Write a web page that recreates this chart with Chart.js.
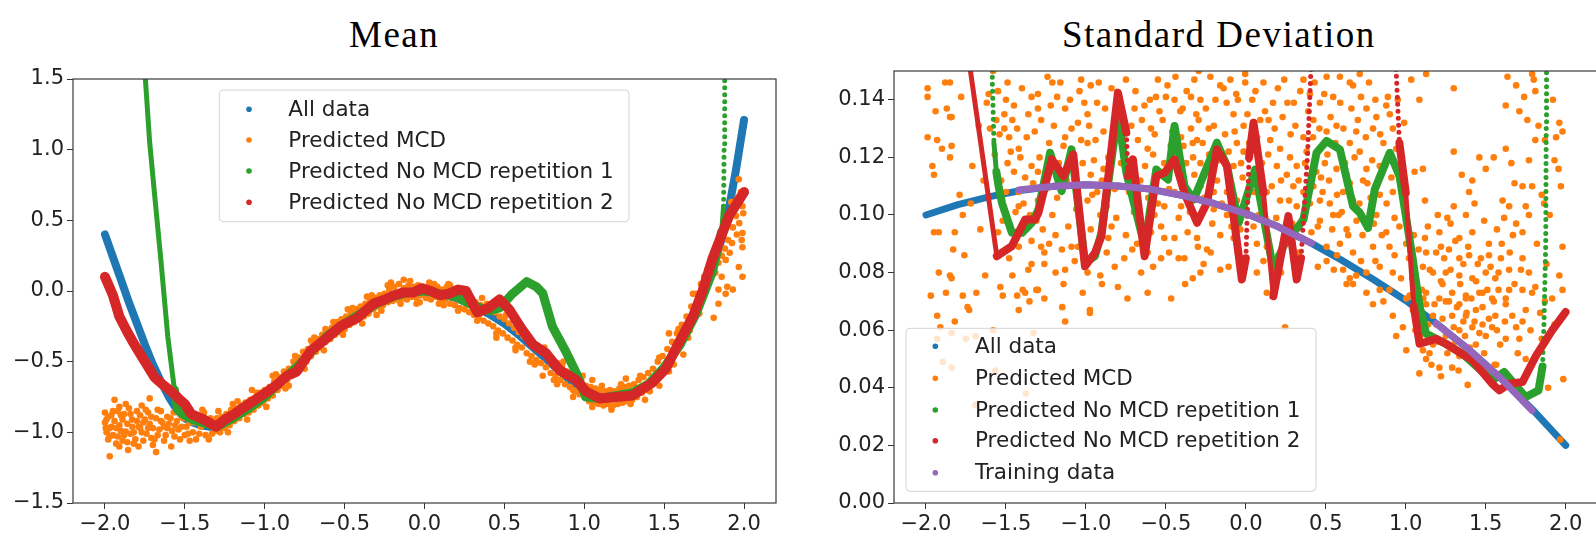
<!DOCTYPE html>
<html>
<head>
<meta charset="utf-8">
<script src="https://cdn.jsdelivr.net/npm/chart.js@4.4.1/dist/chart.umd.min.js"></script>
<style>
  html, body { margin: 0; padding: 0; background: #fff; overflow: hidden; }
  body { width: 1596px; height: 534px; position: relative; }
  canvas { position: absolute; top: 0; }
  .title { position: absolute; top: 16px; font-family: "Liberation Serif", serif; font-size: 37px; line-height: 37px; letter-spacing: 1.5px; color: #000; white-space: nowrap; }
</style>
</head>
<body>
<div class="title" style="left:349px">Mean</div>
<div class="title" style="left:1062px">Standard Deviation</div>
<canvas id="meanChart" width="800" height="534" style="left:0"></canvas>
<canvas id="sdChart" width="801" height="534" style="left:800px"></canvas>
<script>
const seriesLabels = ['All data', 'Predicted MCD', 'Predicted No MCD repetition 1', 'Predicted No MCD repetition 2', 'Training data'];
const xTicks = [-2.0, -1.5, -1.0, -0.5, 0.0, 0.5, 1.0, 1.5, 2.0];
const meanYTicks = [-1.5, -1.0, -0.5, 0.0, 0.5, 1.0, 1.5];
const sdYTicks = [0.00, 0.02, 0.04, 0.06, 0.08, 0.10, 0.12, 0.14];

// ---- Mean panel ----
const meanAll = [[-2.0,0.40],[-1.95,0.24],[-1.9,0.08],[-1.85,-0.08],[-1.8,-0.23],[-1.75,-0.38],[-1.7,-0.52],[-1.65,-0.64],[-1.6,-0.75],[-1.55,-0.84],[-1.5,-0.90],[-1.45,-0.93],[-1.4,-0.95],[-1.35,-0.96],[-1.3,-0.96],[-1.25,-0.94],[-1.2,-0.90],[-1.1,-0.83],[-1.0,-0.75],[-0.9,-0.64],[-0.8,-0.53],[-0.7,-0.42],[-0.6,-0.31],[-0.5,-0.23],[-0.4,-0.16],[-0.3,-0.09],[-0.2,-0.04],[-0.1,-0.01],[0.0,0.0],[0.1,-0.02],[0.2,-0.05],[0.3,-0.10],[0.4,-0.16],[0.5,-0.23],[0.6,-0.32],[0.7,-0.42],[0.8,-0.52],[0.9,-0.62],[1.0,-0.70],[1.1,-0.75],[1.2,-0.76],[1.3,-0.73],[1.4,-0.66],[1.5,-0.54],[1.6,-0.38],[1.7,-0.16],[1.75,-0.02],[1.8,0.14],[1.85,0.33],[1.9,0.55],[1.95,0.86],[2.0,1.21]];

const meanMcd = [
  [-2.00,-0.86],[-2.00,-0.93],[-1.99,-1.00],[-1.99,-0.91],[-1.98,-1.05],[-1.97,-1.17],[-1.97,-0.97],[-1.96,-0.88],[-1.96,-0.96],[-1.95,-1.02],[-1.94,-0.77],[-1.94,-0.92],[-1.93,-1.08],[-1.92,-1.03],[-1.92,-0.85],[-1.91,-0.82],[-1.91,-0.95],[-1.90,-0.99],[-1.89,-0.91],[-1.89,-1.06],[-1.88,-0.87],[-1.87,-0.995],[-1.86,-0.94],[-1.855,-1.125],[-1.85,-0.83],[-1.84,-0.87],[-1.84,-1.01],[-1.83,-0.96],[-1.82,-1.08],[-1.81,-1.05],[-1.80,-0.92],[-1.79,-0.96],[-1.78,-0.88],[-1.77,-0.81],[-1.77,-1.00],[-1.76,-0.93],[-1.75,-0.91],[-1.74,-1.01],[-1.73,-0.86],[-1.72,-0.76],[-1.72,-0.94],[-1.71,-1.04],[-1.70,-0.97],[-1.69,-1.05],[-1.68,-1.14],[-1.68,-0.90],[-1.67,-0.84],[-1.66,-0.98],[-1.65,-0.85],[-1.64,-0.93],[-1.63,-0.96],[-1.62,-1.02],[-1.61,-0.89],[-1.60,-0.94],[-1.585,-1.10],[-1.58,-0.99],[-1.57,-0.86],[-1.565,-1.03],[-1.55,-0.92],[-1.54,-0.98],[-1.52,-0.96],[-1.51,-0.90],[-1.50,-1.02],[-1.48,-1.01],[-1.47,-0.93],
  [-1.995,-0.97],[-1.98,-0.89],[-1.97,-1.03],[-1.95,-0.85],[-1.93,-0.97],[-1.91,-1.10],[-1.90,-0.88],[-1.88,-1.02],[-1.87,-0.80],[-1.86,-1.07],[-1.83,-0.91],[-1.82,-1.00],[-1.80,-0.85],[-1.79,-1.10],[-1.78,-0.97],[-1.76,-1.06],[-1.745,-0.84],[-1.73,-0.97],[-1.71,-0.89],[-1.70,-1.09],[-1.67,-1.02],[-1.65,-0.92],[-1.63,-1.06],[-1.61,-0.97],[-1.59,-0.90],[-1.56,-0.95],[-1.53,-1.05],[-1.53,-0.87],[-1.49,-0.96],[-1.47,-1.06],
  [-1.46,-0.87],[-1.45,-1.00],[-1.44,-0.93],[-1.42,-0.88],[-1.41,-1.01],[-1.40,-0.96],[-1.38,-0.86],[-1.37,-1.02],[-1.36,-0.93],[-1.34,-0.90],[-1.33,-1.01],[-1.31,-0.99],[-1.30,-0.90],[-1.28,-1.00],[-1.27,-0.89],[-1.25,-0.97],[-1.24,-0.87],[-1.22,-0.95],[-1.21,-0.84],[-1.19,-0.92],[-1.18,-0.83],[-1.16,-0.90],[-1.15,-0.81],[-1.13,-0.87],[-1.12,-0.79],[-1.10,-0.86],[-1.09,-0.77],[-1.07,-0.84],[-1.06,-0.76],[-1.04,-0.81],[-1.03,-0.72],[-1.01,-0.79],[-1.00,-0.70],[-0.98,-0.76],[-0.97,-0.68],[-0.95,-0.74],[-0.94,-0.64],[-0.92,-0.70],[-0.91,-0.61],[-0.89,-0.67],[-0.88,-0.57],[-0.86,-0.63],[-0.85,-0.55],[-0.83,-0.60],[-0.82,-0.50],[-0.80,-0.57],[-0.79,-0.47],[-0.77,-0.52],[-0.76,-0.43],[-0.74,-0.50],[-0.73,-0.41],[-0.71,-0.46],[-0.70,-0.37],[-0.68,-0.43],[-0.67,-0.34],[-0.65,-0.40],[-0.64,-0.31],[-0.62,-0.36],[-0.61,-0.28],[-0.59,-0.34],[-0.58,-0.26],[-0.56,-0.31],[-0.55,-0.22],[-0.53,-0.29],[-0.52,-0.20],[-0.50,-0.27],[-0.49,-0.18],[-0.47,-0.24],[-0.46,-0.15],[-0.44,-0.22],[-0.43,-0.13],[-0.41,-0.20],[-0.40,-0.11],[-0.38,-0.18],[-0.37,-0.09],[-0.35,-0.16],[-0.34,-0.07],[-0.32,-0.13],[-0.31,-0.05],[-0.29,-0.11],[-0.28,-0.03],[-0.26,-0.10],[-0.25,-0.02],[-0.23,-0.08],[-0.22,0.01],[-0.20,-0.07],[-0.19,0.03],[-0.17,-0.06],[-0.16,0.05],[-0.14,-0.05],[-0.13,0.02],[-0.11,-0.06],[-0.10,0.04],[-0.08,-0.04],[-0.07,0.03],[-0.05,-0.05],[-0.04,0.04],[-0.02,-0.03],[-0.01,0.03],[0.01,-0.05],[0.02,0.03],[0.04,-0.06],[0.05,0.02],[0.07,-0.04],[0.08,0.03],[0.10,-0.07],[0.11,0.01],[0.13,-0.06],[0.14,0.03],[0.16,-0.09],[0.17,0.01],[0.19,-0.10],[0.20,0.00],[0.22,-0.12],[0.23,-0.03],[0.25,-0.13],[0.26,-0.05],[0.28,-0.15],[0.29,-0.06],[0.31,-0.17],[0.32,-0.08],[0.34,-0.19],[0.35,-0.10],[0.37,-0.21],[0.38,-0.12],[0.40,-0.23],[0.41,-0.13],[0.43,-0.25],[0.44,-0.15],[0.46,-0.28],[0.47,-0.18],[0.49,-0.30],[0.50,-0.20],[0.52,-0.33],[0.53,-0.23],[0.55,-0.35],[0.56,-0.26],[0.58,-0.38],[0.59,-0.29],[0.61,-0.40],[0.62,-0.32],[0.64,-0.44],[0.65,-0.34],[0.67,-0.46],[0.68,-0.37],[0.70,-0.49],[0.71,-0.40],[0.73,-0.51],[0.74,-0.42],[0.76,-0.54],[0.77,-0.45],[0.79,-0.58],[0.80,-0.48],[0.82,-0.60],[0.83,-0.51],[0.85,-0.63],[0.86,-0.53],[0.88,-0.66],[0.89,-0.57],[0.91,-0.68],[0.92,-0.60],[0.94,-0.71],[0.95,-0.61],[0.97,-0.73],[0.98,-0.63],[1.00,-0.75],[1.01,-0.67],[1.03,-0.78],[1.04,-0.68],[1.06,-0.79],[1.07,-0.69],[1.09,-0.80],[1.10,-0.70],[1.12,-0.81],[1.13,-0.71],[1.15,-0.80],[1.16,-0.70],[1.18,-0.81],[1.19,-0.71],[1.21,-0.80],[1.22,-0.69],[1.24,-0.79],[1.25,-0.68],[1.27,-0.78],[1.28,-0.67],[1.30,-0.77],[1.31,-0.66],[1.33,-0.75],[1.34,-0.63],[1.36,-0.72],[1.37,-0.61],[1.39,-0.70],[1.40,-0.58],[1.42,-0.66],[1.43,-0.55],[1.45,-0.63],[1.46,-0.50],[1.48,-0.58],[1.49,-0.46],[1.51,-0.53],[1.52,-0.41],[1.54,-0.48],[1.55,-0.36],[1.57,-0.43],[1.58,-0.30],[1.60,-0.37],[1.61,-0.24],[1.63,-0.31],[1.64,-0.18],[1.66,-0.24],[1.67,-0.11],[1.69,-0.17],
  [-1.43,-1.05],[-1.39,-0.84],[-1.35,-1.05],[-1.29,-0.85],[-1.23,-1.00],[-1.17,-0.78],[-1.11,-0.91],[-1.05,-0.72],[-0.99,-0.82],[-0.93,-0.59],[-0.87,-0.69],[-0.81,-0.46],[-0.75,-0.55],[-0.69,-0.33],[-0.63,-0.42],[-0.57,-0.22],[-0.51,-0.31],[-0.45,-0.12],[-0.39,-0.23],[-0.33,-0.03],[-0.27,-0.14],[-0.21,0.06],[-0.15,-0.09],[-0.09,0.07],[-0.03,-0.08],[0.03,0.06],[0.09,-0.09],[0.15,0.05],[0.21,-0.14],[0.27,-0.02],[0.33,-0.21],[0.39,-0.09],[0.45,-0.30],[0.51,-0.17],[0.57,-0.40],[0.63,-0.29],[0.69,-0.52],[0.75,-0.40],[0.81,-0.63],[0.87,-0.50],[0.93,-0.70],[0.99,-0.60],[1.05,-0.82],[1.11,-0.67],[1.17,-0.82],[1.23,-0.66],[1.29,-0.80],[1.35,-0.60],[1.41,-0.71],[1.47,-0.47],[1.53,-0.57],[1.59,-0.27],[1.65,-0.33],
  [-0.71,-0.35],[-0.62,-0.27],[-0.48,-0.13],[-0.36,-0.04],[-0.23,0.04],[-0.13,0.08],[0.06,0.05],[0.16,0.04],[0.24,0.0],[0.36,-0.05],[0.45,-0.33],[0.57,-0.42],[0.66,-0.50],[0.74,-0.60],[0.83,-0.66],[0.93,-0.75],[1.05,-0.63],[1.17,-0.84],[1.26,-0.62],[1.38,-0.77],[1.47,-0.67],[1.56,-0.52],[1.62,-0.45],[1.53,-0.30],[-0.95,-0.60],[-1.08,-0.70],[-0.85,-0.67],[-1.20,-0.80],[-0.30,-0.17],[-0.05,-0.09],[0.12,-0.10],
  [1.70,-0.02],[1.71,-0.10],[1.72,-0.16],[1.73,0.05],[1.74,-0.02],[1.75,0.10],[1.76,0.02],[1.77,0.15],[1.78,0.06],[1.79,0.20],[1.80,0.11],[1.81,-0.19],[1.81,0.26],[1.82,0.13],[1.83,0.30],[1.84,0.01],[1.84,0.20],[1.85,0.36],[1.86,0.25],[1.86,0.10],[1.87,0.42],[1.88,0.30],[1.885,0.22],[1.89,0.48],[1.895,0.03],[1.90,0.36],[1.91,0.55],[1.91,0.27],[1.92,0.63],[1.925,0.34],[1.93,0.45],[1.93,0.01],[1.94,0.58],[1.95,0.53],[1.955,0.40],[1.96,0.66],[1.967,0.79],[1.967,0.17],[1.97,0.48],[1.98,0.70],[1.985,0.36],[1.99,0.60],[1.99,0.41],[1.99,0.31],[1.99,0.10],[1.995,0.55],[1.68,-0.02],[1.66,-0.28],[1.84,-0.09],[1.885,-0.02]
];

const meanRep1 = [[-1.75,1.55],[-1.72,1.05],[-1.69,0.69],[-1.65,0.22],[-1.607,-0.32],[-1.565,-0.70],[-1.545,-0.84],[-1.5,-0.88],[-1.45,-0.91],[-1.3,-0.96],[-1.2,-0.90],[-1.1,-0.83],[-1.0,-0.75],[-0.9,-0.64],[-0.8,-0.54],[-0.7,-0.42],[-0.6,-0.31],[-0.5,-0.23],[-0.4,-0.16],[-0.3,-0.09],[-0.2,-0.04],[-0.1,-0.01],[0.0,0.0],[0.1,-0.02],[0.2,-0.04],[0.3,-0.10],[0.4,-0.14],[0.47,-0.12],[0.55,-0.02],[0.64,0.066],[0.70,0.03],[0.74,-0.016],[0.80,-0.25],[0.89,-0.44],[0.95,-0.58],[1.01,-0.75],[1.1,-0.76],[1.2,-0.74],[1.3,-0.72],[1.4,-0.66],[1.5,-0.54],[1.6,-0.38],[1.7,-0.16],[1.8,0.13],[1.86,0.42],[1.872,0.6],[1.875,1.0],[1.878,1.3],[1.88,1.55]];

const meanRep2 = [[-2.0,0.10],[-1.95,-0.03],[-1.91,-0.18],[-1.86,-0.29],[-1.815,-0.38],[-1.75,-0.50],[-1.69,-0.61],[-1.64,-0.66],[-1.585,-0.71],[-1.54,-0.76],[-1.50,-0.80],[-1.46,-0.87],[-1.38,-0.91],[-1.305,-0.96],[-1.25,-0.91],[-1.19,-0.87],[-1.087,-0.79],[-0.98,-0.71],[-0.92,-0.66],[-0.86,-0.60],[-0.80,-0.57],[-0.71,-0.42],[-0.63,-0.35],[-0.526,-0.25],[-0.42,-0.19],[-0.32,-0.09],[-0.256,-0.064],[-0.19,-0.03],[-0.13,-0.01],[-0.07,-0.01],[-0.017,0.02],[0.04,0.0],[0.097,-0.03],[0.15,-0.02],[0.21,0.01],[0.26,0.0],[0.33,-0.15],[0.40,-0.12],[0.47,-0.06],[0.53,-0.13],[0.615,-0.28],[0.68,-0.38],[0.76,-0.44],[0.845,-0.56],[0.95,-0.63],[1.01,-0.71],[1.095,-0.76],[1.2,-0.75],[1.30,-0.74],[1.425,-0.65],[1.51,-0.55],[1.59,-0.37],[1.68,-0.18],[1.74,0.0],[1.80,0.22],[1.905,0.53],[2.0,0.70]];

// ---- Standard deviation panel ----
const sdAll = [[-2.0,.1000],[-1.8,.1036],[-1.6,.1064],[-1.4,.1086],[-1.2,.1100],[-1.0,.1105],[-0.8,.1101],[-0.6,.1090],[-0.4,.1068],[-0.2,.1040],[0.0,.1005],[0.2,.0960],[0.4,.0905],[0.6,.0843],[0.8,.0775],[1.0,.0703],[1.2,.0620],[1.4,.0530],[1.6,.0430],[1.8,.0320],[2.0,.0200]];

const sdTraining = [[-1.42,.1087],[-1.2,.1100],[-1.0,.1105],[-0.8,.1101],[-0.6,.1090],[-0.4,.1068],[-0.2,.1040],[0.0,.1005],[0.2,.0960],[0.41,.0902],[0.8,null],[1.19,.0623],[1.4,.0530],[1.6,.0430],[1.79,.0321]];

const sdMcd = [
  [-1.99,.144],[-1.99,.141],[-1.94,.136],[-1.99,.127],[-1.93,.126],[-1.87,.137],[-1.85,.134],[-1.88,.146],[-1.85,.146],[-1.84,.134],[-1.96,.117],[-1.95,.114],[-1.85,.120],[-1.90,.123],[-1.84,.124],[-1.79,.107],[-1.77,.100],[-1.82,.094],[-1.95,.094],[-1.92,.094],[-1.76,.086],[-1.83,.088],[-1.92,.080],[-1.85,.079],[-1.84,.078],[-1.97,.072],[-1.93,.065],[-1.91,.061],[-1.875,.073],[-1.82,.063],[-1.77,.072],[-1.74,.068],[-1.73,.067],[-1.685,.073],[-1.93,.057],[-1.895,.049],[-1.84,.047],[-1.84,.059],[-1.75,.057],[-1.69,.058],[-1.69,.034],[-1.71,.117],[-1.67,.131],[-1.66,.095],[-1.64,.112],[-1.63,.079],[-1.62,.139],[-1.72,.104],[-1.78,.141],
  [-1.608,.142],[-1.58,.150],[-1.60,.130],[-1.56,.133],[-1.55,.143],[-1.49,.146],[-1.50,.140],[-1.51,.135],[-1.46,.133],[-1.51,.130],[-1.48,.127],[-1.42,.123],[-1.41,.120],[-1.49,.118],[-1.45,.115],[-1.38,.113],[-1.34,.117],[-1.30,.115],[-1.38,.109],[-1.42,.108],[-1.42,.103],[-1.46,.094],[-1.35,.100],[-1.30,.105],[-1.36,.096],[-1.27,.095],[-1.28,.089],[-1.42,.089],[-1.48,.085],[-1.34,.091],[-1.26,.087],[-1.21,.100],[-1.19,.093],[-1.11,.096],[-1.15,.088],[-1.09,.089],[-1.07,.084],[-1.13,.081],[-1.19,.080],[-1.34,.083],[-1.36,.081],[-1.26,.083],[-1.30,.074],[-1.26,.071],[-1.38,.073],[-1.23,.125],[-1.18,.141],[-1.21,.146],[-1.24,.148],[-1.30,.142],[-1.30,.137],[-1.34,.141],[-1.13,.137],[-1.09,.130],[-1.13,.127],[-1.04,.143],[-1.03,.147],[-1.535,.075],[-1.52,.072],[-1.43,.072],[-1.42,.067],[-1.395,.074],[-1.353,.070],[-1.31,.074],[-1.148,.068],[-1.13,.063],[-1.02,.073],[-0.975,.067],[-0.975,.066],[-1.58,.060],[-1.567,.046],[-1.376,.038],[-1.328,.059],
  [-1.57,.121],[-1.54,.128],[-1.53,.112],[-1.52,.098],[-1.50,.108],[-1.47,.122],[-1.45,.138],[-1.44,.101],[-1.43,.130],[-1.40,.144],[-1.39,.104],[-1.37,.127],[-1.36,.135],[-1.33,.111],[-1.32,.129],[-1.31,.098],[-1.29,.120],[-1.28,.133],[-1.25,.109],[-1.24,.115],[-1.22,.138],[-1.20,.131],[-1.18,.106],[-1.17,.118],[-1.16,.146],[-1.14,.124],[-1.12,.112],[-1.10,.140],[-1.08,.119],[-1.06,.102],[-1.05,.132],[-1.03,.126],[-1.01,.139],[-1.55,.094],[-1.46,.079],[-1.23,.090],[-1.14,.076],[-1.05,.089],
  [-0.97,.145],[-0.99,.135],[-0.93,.139],[-0.89,.129],[-0.99,.125],[-0.95,.119],[-1.02,.118],[-0.97,.114],[-0.89,.116],[-1.05,.110],[-0.99,.105],[-0.93,.108],[-0.87,.103],[-0.91,.100],[-0.97,.095],[-0.84,.096],[-0.87,.087],[-0.97,.085],[-0.99,.080],[-0.91,.079],[-0.82,.082],[-0.76,.085],[-0.80,.075],[-0.74,.071],[-0.90,.076],[-0.716,.131],[-0.696,.137],[-0.675,.126],[-0.614,.123],[-0.593,.130],[-0.634,.138],[-0.562,.141],[-0.55,.147],[-0.49,.145],[-0.446,.140],[-0.395,.137],[-0.343,.141],[-0.322,.147],[-0.343,.130],[-0.405,.127],[-0.332,.125],[-0.374,.118],[-0.322,.114],[-0.446,.108],[-0.405,.103],[-0.51,.103],[-0.572,.100],[-0.53,.096],[-0.593,.094],[-0.51,.092],[-0.446,.092],[-0.614,.087],[-0.655,.080],[-0.53,.085],[-0.364,.094],[-0.384,.085],[-0.30,.089],[-0.614,.073],[-0.467,.071],[-0.332,.078],[-0.78,.118],[-0.82,.109],[-0.70,.101],[-0.66,.112],[-0.58,.121],[-0.52,.133],[-0.47,.124],[-0.43,.118],[-0.36,.108],[-0.75,.093],[-0.68,.090],[-0.48,.087],
  [-0.98,.131],[-0.96,.107],[-0.94,.126],[-0.92,.146],[-0.90,.112],[-0.88,.137],[-0.86,.120],[-0.84,.144],[-0.83,.128],[-0.81,.099],[-0.79,.139],[-0.77,.125],[-0.75,.147],[-0.73,.108],[-0.72,.119],[-0.69,.143],[-0.67,.097],[-0.65,.133],[-0.63,.117],[-0.61,.106],[-0.60,.140],[-0.57,.128],[-0.55,.104],[-0.54,.136],[-0.51,.118],[-0.50,.141],[-0.48,.109],[-0.46,.129],[-0.44,.148],[-0.42,.099],[-0.41,.136],[-0.39,.124],[-0.37,.143],[-0.35,.101],[-0.33,.120],[-0.31,.135],[-0.86,.092],[-0.71,.088],[-0.58,.082],[-0.42,.085],[-0.38,.076],
  [-0.295,.150],[-0.284,.140],[-0.222,.148],[-0.139,.144],[-0.097,.147],[-0.004,.149],[-0.004,.146],[-0.295,.133],[-0.232,.130],[-0.077,.135],[-0.014,.131],[-0.056,.125],[0.09,.133],[0.12,.136],[0.142,.133],[-0.305,.126],[-0.284,.118],[-0.232,.115],[-0.17,.119],[-0.108,.122],[-0.077,.117],[-0.014,.122],[0.048,.123],[0.152,.126],[0.214,.123],[0.194,.117],[0.276,.120],[0.256,.114],[0.318,.117],[-0.284,.110],[-0.201,.108],[-0.118,.108],[-0.056,.105],[0.09,.112],[0.162,.110],[0.214,.105],[0.297,.110],[0.318,.103],[-0.284,.100],[-0.201,.102],[-0.118,.100],[-0.035,.095],[0.048,.096],[0.131,.098],[-0.305,.092],[-0.243,.088],[-0.16,.093],[-0.077,.092],[0.069,.090],[0.131,.089],[0.204,.086],[-0.264,.083],[-0.16,.081],[-0.108,.082],[-0.284,.080],[0.069,.080],[0.131,.073],[0.245,.061],[-0.19,.140],[-0.06,.142],[0.04,.140],[0.2,.144],[0.26,.139],[0.05,.108],[0.25,.094],[-0.02,.113],
  [-0.27,.125],[-0.26,.106],[-0.25,.137],[-0.23,.121],[-0.21,.097],[-0.20,.131],[-0.18,.112],[-0.16,.145],[-0.15,.104],[-0.13,.128],[-0.12,.139],[-0.10,.113],[-0.09,.096],[-0.07,.129],[-0.05,.140],[-0.03,.118],[-0.01,.101],[0.01,.135],[0.02,.125],[0.03,.110],[0.06,.143],[0.07,.127],[0.08,.100],[0.10,.118],[0.11,.146],[0.13,.108],[0.14,.121],[0.17,.139],[0.18,.130],[0.19,.099],[0.22,.112],[0.23,.134],[0.24,.147],[0.27,.105],[0.28,.128],[0.29,.097],[0.30,.139],[-0.22,.087],[-0.04,.085],[0.11,.084],[0.22,.080],[0.29,.088],
  [0.36,.147],[0.505,.148],[0.588,.148],[0.65,.146],[0.712,.149],[0.546,.141],[0.67,.145],[0.754,.137],[0.816,.134],[0.795,.130],[0.878,.138],[0.888,.141],[0.919,.130],[0.463,.139],[0.422,.133],[0.505,.129],[0.567,.131],[0.65,.125],[0.712,.122],[0.36,.127],[0.38,.122],[0.494,.118],[0.567,.116],[0.63,.114],[0.754,.116],[0.837,.117],[0.733,.112],[0.36,.108],[0.422,.110],[0.463,.105],[0.525,.104],[0.608,.108],[0.67,.105],[0.837,.107],[0.919,.108],[0.463,.098],[0.546,.100],[0.63,.095],[0.692,.098],[0.816,.100],[0.878,.094],[0.96,.096],[0.505,.089],[0.588,.090],[0.67,.087],[0.795,.089],[0.898,.089],[1.003,.090],[0.505,.084],[0.608,.081],[0.754,.080],[0.837,.082],[0.919,.080],[0.65,.078],[0.754,.073],[0.898,.074],[1.003,.071],[0.795,.069],[0.837,.074],[0.919,.065],[0.982,.061],[0.94,.058],[0.63,.076],[0.67,.076],[0.40,.142],[0.47,.113],[0.60,.120],[0.70,.133],[0.78,.106],[0.86,.125],[0.55,.081],[0.72,.084],[0.41,.094],[0.58,.100],[0.97,.120],
  [0.31,.131],[0.33,.112],[0.34,.143],[0.35,.098],[0.37,.118],[0.39,.136],[0.40,.104],[0.42,.127],[0.43,.146],[0.44,.115],[0.45,.096],[0.46,.130],[0.48,.108],[0.49,.142],[0.51,.121],[0.52,.112],[0.53,.134],[0.54,.095],[0.56,.125],[0.57,.107],[0.59,.139],[0.60,.101],[0.61,.130],[0.62,.118],[0.64,.093],[0.65,.111],[0.66,.137],[0.68,.120],[0.69,.129],[0.71,.104],[0.72,.141],[0.73,.093],[0.75,.127],[0.76,.111],[0.77,.146],[0.79,.119],[0.80,.097],[0.81,.140],[0.83,.112],[0.84,.128],[0.85,.093],[0.87,.118],[0.88,.104],[0.90,.135],[0.91,.113],[0.93,.099],[0.94,.123],[0.95,.140],[0.98,.106],[0.99,.132],[0.33,.087],[0.45,.082],[0.57,.086],[0.69,.079],[0.81,.084],[0.93,.086],[0.86,.070],[0.97,.078],
  [1.085,.140],[1.034,.147],[1.127,.149],[1.30,.144],[1.625,.138],[1.636,.148],[1.69,.145],[1.79,.149],[1.81,.143],[1.80,.147],[1.71,.136],[1.76,.133],[1.83,.131],[1.81,.126],[1.96,.132],[1.98,.129],[1.94,.127],[1.30,.122],[1.46,.120],[1.55,.120],[1.50,.116],[1.625,.123],[1.77,.119],[1.955,.116],[1.93,.119],[1.87,.126],[1.107,.116],[1.055,.115],[1.35,.114],[1.416,.112],[1.68,.111],[1.73,.110],[1.79,.110],[1.85,.107],[1.865,.104],[1.396,.108],[1.30,.103],[1.605,.105],[1.646,.103],[1.75,.103],[1.77,.100],[1.20,.100],[1.26,.099],[1.376,.100],[1.49,.098],[1.615,.099],[1.69,.097],[1.73,.094],[1.138,.096],[1.21,.094],[1.335,.092],[1.416,.094],[1.52,.090],[1.67,.093],[1.98,.089],[1.127,.087],[1.22,.089],[1.27,.088],[1.335,.085],[1.396,.086],[1.45,.083],[1.52,.086],[1.595,.085],[1.646,.081],[1.73,.085],[1.77,.080],[1.107,.082],[1.17,.080],[1.25,.080],[1.335,.079],[1.416,.078],[1.50,.080],[1.56,.078],[1.646,.074],[1.73,.074],[1.81,.075],[1.96,.079],[1.127,.073],[1.21,.071],[1.29,.073],[1.376,.071],[1.46,.073],[1.54,.071],[1.625,.071],[1.915,.071],
  [1.003,.053],[1.127,.050],[1.085,.045],[1.21,.047],[1.22,.044],[1.148,.052],[1.335,.051],[1.29,.047],[1.387,.041],[1.555,.048],[1.438,.055],[1.127,.069],[1.17,.065],[1.25,.070],[1.29,.065],[1.335,.069],[1.376,.065],[1.438,.067],[1.48,.062],[1.50,.058],[1.54,.061],[1.56,.065],[1.625,.069],[1.666,.065],[1.75,.067],[1.79,.073],[1.87,.070],[1.98,.074],[1.69,.061],[1.73,.063],[1.416,.061],[1.335,.060],[1.25,.058],[1.17,.055],[1.107,.053],[1.044,.067],[1.024,.072],[1.376,.072],[1.48,.073],[1.58,.074],[1.565,.048],[1.89,.040],[1.985,.043],[1.965,.022],[1.75,.050],[1.71,.057],[1.625,.057],[1.85,.057],[1.06,.060],[1.19,.062],[1.31,.056],[1.40,.054],[1.45,.050],[1.10,.074],[1.23,.076],[1.36,.063],[1.60,.090],[1.90,.100],
  [1.02,.085],[1.04,.078],[1.05,.093],[1.07,.066],[1.08,.088],[1.09,.058],[1.11,.071],[1.12,.092],[1.14,.062],[1.15,.081],[1.16,.048],[1.18,.069],[1.19,.087],[1.20,.056],[1.22,.077],[1.23,.064],[1.24,.085],[1.26,.052],[1.27,.070],[1.28,.081],[1.30,.061],[1.31,.091],[1.32,.068],[1.33,.046],[1.34,.076],[1.36,.083],[1.37,.058],[1.38,.066],[1.39,.089],[1.41,.071],[1.42,.049],[1.43,.063],[1.44,.077],[1.46,.059],[1.47,.085],[1.48,.068],[1.49,.052],[1.51,.074],[1.52,.064],[1.53,.082],[1.55,.070],[1.57,.060],[1.58,.080],[1.59,.055],[1.12,.105],[1.28,.097],[1.43,.104],[1.57,.095],
  [1.62,.063],[1.65,.087],[1.68,.076],[1.70,.052],[1.72,.081],[1.78,.060],[1.82,.090],[1.84,.066],[1.88,.083],[1.93,.062],[1.97,.110],[1.66,.118],[1.74,.141],[1.92,.140]
];

const sdRep1 = [[-1.588,.160],[-1.585,.146],[-1.575,.125],[-1.56,.115],[-1.546,.110],[-1.525,.1042],[-1.463,.0938],[-1.40,.0938],[-1.338,.0973],[-1.297,.1019],[-1.224,.1216],[-1.152,.1083],[-1.09,.1228],[-1.006,.0834],[-0.944,.0857],[-0.903,.0938],[-0.80,.1355],[-0.747,.1147],[-0.633,.0892],[-0.56,.1158],[-0.487,.1123],[-0.446,.1309],[-0.425,.1239],[-0.384,.110],[-0.326,.1054],[-0.181,.1251],[-0.118,.117],[-0.045,.0973],[0.058,.1158],[0.09,.1054],[0.172,.081],[0.235,.0892],[0.36,.0984],[0.442,.1216],[0.504,.1257],[0.588,.1228],[0.67,.1031],[0.712,.1008],[0.764,.0955],[0.806,.1089],[0.90,.1216],[0.961,.1135],[1.044,.0845],[1.086,.0683],[1.127,.0588],[1.25,.0553],[1.355,.0518],[1.54,.0425],[1.615,.0455],[1.75,.0368],[1.83,.0391],[1.855,.0474],[1.864,.062],[1.875,.090],[1.878,.130],[1.88,.160]];

const sdRep2 = [[-1.74,.160],[-1.722,.150],[-1.557,.0857],[-1.463,.0892],[-1.38,.0984],[-1.318,.0984],[-1.297,.1008],[-1.214,.1193],[-1.14,.1135],[-1.079,.1210],[-1.006,.0822],[-0.944,.0868],[-0.903,.0926],[-0.80,.1425],[-0.747,.1286],[-0.737,.1135],[-0.706,.1193],[-0.674,.1042],[-0.633,.0857],[-0.56,.1135],[-0.508,.1147],[-0.446,.1193],[-0.384,.1077],[-0.305,.0973],[-0.243,.1042],[-0.181,.1228],[-0.118,.117],[-0.025,.0776],[0.00,.0850],[0.02,.120],[0.048,.132],[0.11,.1077],[0.172,.0718],[0.266,.0996],[0.318,.0776],[0.345,.085],[0.385,.120],[0.41,.155],[0.42,.170],[0.93,.170],[0.94,.150],[0.96,.125],[1.0,.1077],[1.05,.0683],[1.086,.0553],[1.19,.0570],[1.25,.0553],[1.418,.0495],[1.54,.0414],[1.585,.0391],[1.646,.0414],[1.73,.042],[1.81,.0507],[1.916,.060],[1.999,.0663]];

const COLORS = { blue: '#1f77b4', orange: '#ff7f0e', green: '#2ca02c', red: '#d62728', purple: '#9467bd' };

const fmt = digits => v => (v < 0 ? '\u2212' : '') + Math.abs(v).toFixed(digits);
const toPts = arr => arr.map(([x, y]) => ({ x, y }));

// 0 = normal run, 1 = steep (thin), 2 = near vertical (trail of dots)
function steepness(c, thinSlope) {
  const dx = Math.abs(c.p1.x - c.p0.x), dy = Math.abs(c.p1.y - c.p0.y);
  const s = dy / Math.max(dx, 0.5);
  if (s > 15 && dy > 20) return 2;
  if (s > thinSlope || (dy > 160 && s > 5)) return 1;
  return 0;
}

function curve(label, pts, color, width, order, thinSlope) {
  return {
    label, data: toPts(pts), order,
    borderColor: color, backgroundColor: color, borderWidth: width,
    pointRadius: 0, pointHoverRadius: 0, tension: 0, fill: false, clip: 0, spanGaps: false,
    borderCapStyle: 'round', borderJoinStyle: 'round',
    segment: {
      borderWidth: c => steepness(c, thinSlope) ? 5 : undefined,
      borderDash: c => steepness(c, thinSlope) === 2 ? [0, 7] : undefined
    }
  };
}

function dots(label, pts, color, order) {
  return {
    label, data: toPts(pts), order, showLine: false,
    pointRadius: 3.3, pointHoverRadius: 3.3, pointBorderWidth: 0,
    pointBackgroundColor: color, backgroundColor: color, borderColor: color, clip: 0
  };
}

function axis(min, max, ticks, digits, fit) {
  return {
    type: 'linear', min, max,
    afterBuildTicks: s => { s.ticks = ticks.map(value => ({ value })); },
    afterFit: fit,
    grid: { drawOnChartArea: false, drawTicks: true, tickLength: 6, color: '#333', lineWidth: 1 },
    border: { display: false },
    ticks: { autoSkip: false, maxRotation: 0, padding: 3, color: '#222', font: { family: 'DejaVu Sans', size: 21 }, callback: fmt(digits) }
  };
}

const framePlugin = {
  id: 'frame',
  afterDatasetsDraw(chart) {
    const { ctx, chartArea: a } = chart;
    ctx.save();
    ctx.strokeStyle = '#3a3a3a';
    ctx.lineWidth = 1.2;
    ctx.strokeRect(a.left, a.top, a.right - a.left, a.bottom - a.top);
    ctx.restore();
  }
};

const boxLegend = {
  id: 'boxLegend',
  afterDraw(chart, args, opts) {
    const { ctx } = chart;
    const [x0, y0, x1, y1] = opts.box;
    ctx.save();
    ctx.beginPath();
    ctx.roundRect(x0, y0, x1 - x0, y1 - y0, 4);
    ctx.fillStyle = 'rgba(255,255,255,0.8)';
    ctx.fill();
    ctx.strokeStyle = '#d4d4d4';
    ctx.lineWidth = 1;
    ctx.stroke();
    ctx.font = '21.5px "DejaVu Sans"';
    ctx.textBaseline = 'middle';
    chart.data.datasets.forEach((ds, i) => {
      const y = opts.rows[i];
      ctx.beginPath();
      ctx.arc(opts.markerX, y, 2.8, 0, Math.PI * 2);
      ctx.fillStyle = ds.backgroundColor;
      ctx.fill();
      ctx.fillStyle = '#222';
      ctx.fillText(ds.label, opts.textX, y + 1);
    });
    ctx.restore();
  }
};

function baseOptions(pad, yWidth, legendOpts, yMin, yMax, yTicks, yDigits) {
  return {
    responsive: false, animation: false, devicePixelRatio: 1, events: [],
    layout: { padding: pad },
    plugins: { legend: { display: false }, tooltip: { enabled: false }, boxLegend: legendOpts },
    scales: {
      x: axis(-2.2, 2.2, xTicks, 1, s => { s.height = 31; }),
      y: axis(yMin, yMax, yTicks, yDigits, s => { s.width = yWidth; })
    }
  };
}

new Chart(document.getElementById('meanChart'), {
  type: 'line',
  data: {
    datasets: [
      curve(seriesLabels[0], meanAll, COLORS.blue, 8, 4, 7),
      dots(seriesLabels[1], meanMcd, COLORS.orange, 3),
      curve(seriesLabels[2], meanRep1, COLORS.green, 9, 2, 7),
      curve(seriesLabels[3], meanRep2, COLORS.red, 10, 1, 7)
    ]
  },
  options: baseOptions({ top: 79, right: 24, left: 0, bottom: 0 }, 73,
    { box: [219.3, 90, 629, 221.7], rows: [109.3, 140, 171, 202.3], markerX: 249, textX: 288.3 },
    -1.5, 1.5, meanYTicks, 1),
  plugins: [framePlugin, boxLegend]
});

new Chart(document.getElementById('sdChart'), {
  type: 'line',
  data: {
    datasets: [
      curve(seriesLabels[0], sdAll, COLORS.blue, 7, 5, 10),
      dots(seriesLabels[1], sdMcd, COLORS.orange, 4),
      curve(seriesLabels[2], sdRep1, COLORS.green, 8, 3, 10),
      curve(seriesLabels[3], sdRep2, COLORS.red, 8, 2, 10),
      curve(seriesLabels[4], sdTraining, COLORS.purple, 7, 1, 10)
    ]
  },
  options: baseOptions({ top: 71, right: 0, left: 0, bottom: 0 }, 94,
    { box: [106, 328.3, 516, 491.3], rows: [346.3, 378.3, 410, 440.7, 472.7], markerX: 135.3, textX: 175 },
    0, 0.15, sdYTicks, 2),
  plugins: [framePlugin, boxLegend]
});
</script>
</body>
</html>
